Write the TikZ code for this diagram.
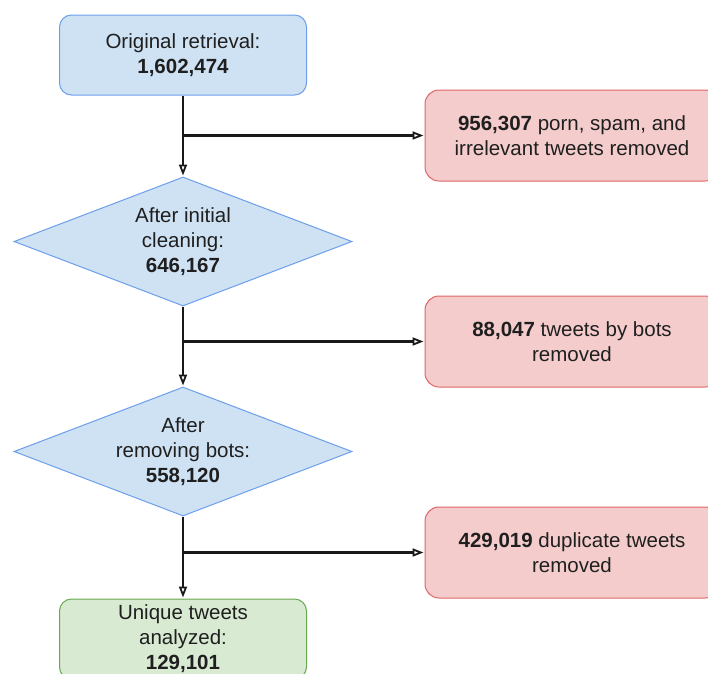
\documentclass[tikz,border=0pt]{standalone}
\usepackage{fontspec}
\setmainfont{Liberation Sans}
\usetikzlibrary{shapes.geometric,arrows.meta}
\definecolor{azul}{HTML}{CFE2F3}
\definecolor{azulb}{HTML}{6D9EEB}
\definecolor{rojo}{HTML}{F4CCCC}
\definecolor{rojob}{HTML}{E06666}
\definecolor{verde}{HTML}{D9EAD3}
\definecolor{verdeb}{HTML}{6AA84F}
\begin{document}
\begin{tikzpicture}[x=1pt,y=-1pt,
		texto/.style={align=center,text=black!88,font=\fontsize{20.5}{25}\selectfont},
		caja/.style={texto,rectangle,rounded corners=12pt,line width=1pt,minimum width=247pt,minimum height=80pt},
		rombo/.style={texto,diamond,aspect=2.64,inner sep=0pt,line width=1pt,minimum width=338pt,minimum height=129pt,fill=azul,draw=azulb},
		quitar/.style={texto,rectangle,rounded corners=14pt,line width=1pt,minimum width=294pt,minimum height=91pt,fill=rojo,draw=rojob},
		flecha/.style={-{Triangle[open,length=11pt,width=8pt,line width=1.8pt]},line width=2.4pt,draw=black!90,shorten >=1pt}]
			\useasboundingbox (0,0) rectangle (708,673);
			\clip (0,0) rectangle (708,673);

			% Cajas
			\node[caja,fill=azul,draw=azulb] (orig) at (183,55) {Original retrieval:\\\textbf{1,602,474}};
			\node[rombo] (limpio) at (183,241.5) {After initial\\cleaning:\\\textbf{646,167}};
			\node[rombo] (bots) at (183,451.5) {After\\removing bots:\\\textbf{558,120}};
			\node[caja,fill=verde,draw=verdeb] (unicos) at (183,639) {Unique tweets\\analyzed:\\\textbf{129,101}};

			% Eliminados
			\node[quitar] (q1) at (572,135.5) {\textbf{956,307} porn, spam, and\\irrelevant tweets removed};
			\node[quitar] (q2) at (572,341.5) {\textbf{88,047} tweets by bots\\removed};
			\node[quitar] (q3) at (572,552.5) {\textbf{429,019} duplicate tweets\\removed};

			% Flechas
			\coordinate (r1) at (183,135.5);
			\coordinate (r2) at (183,341.5);
			\coordinate (r3) at (183,552.5);
			\draw[flecha] (orig) -- (limpio);
			\draw[flecha] (limpio) -- (bots);
			\draw[flecha] (bots) -- (unicos);
			\draw[flecha] (r1) -- (q1.west);
			\draw[flecha] (r2) -- (q2.west);
			\draw[flecha] (r3) -- (q3.west);

\end{tikzpicture}
\end{document}
